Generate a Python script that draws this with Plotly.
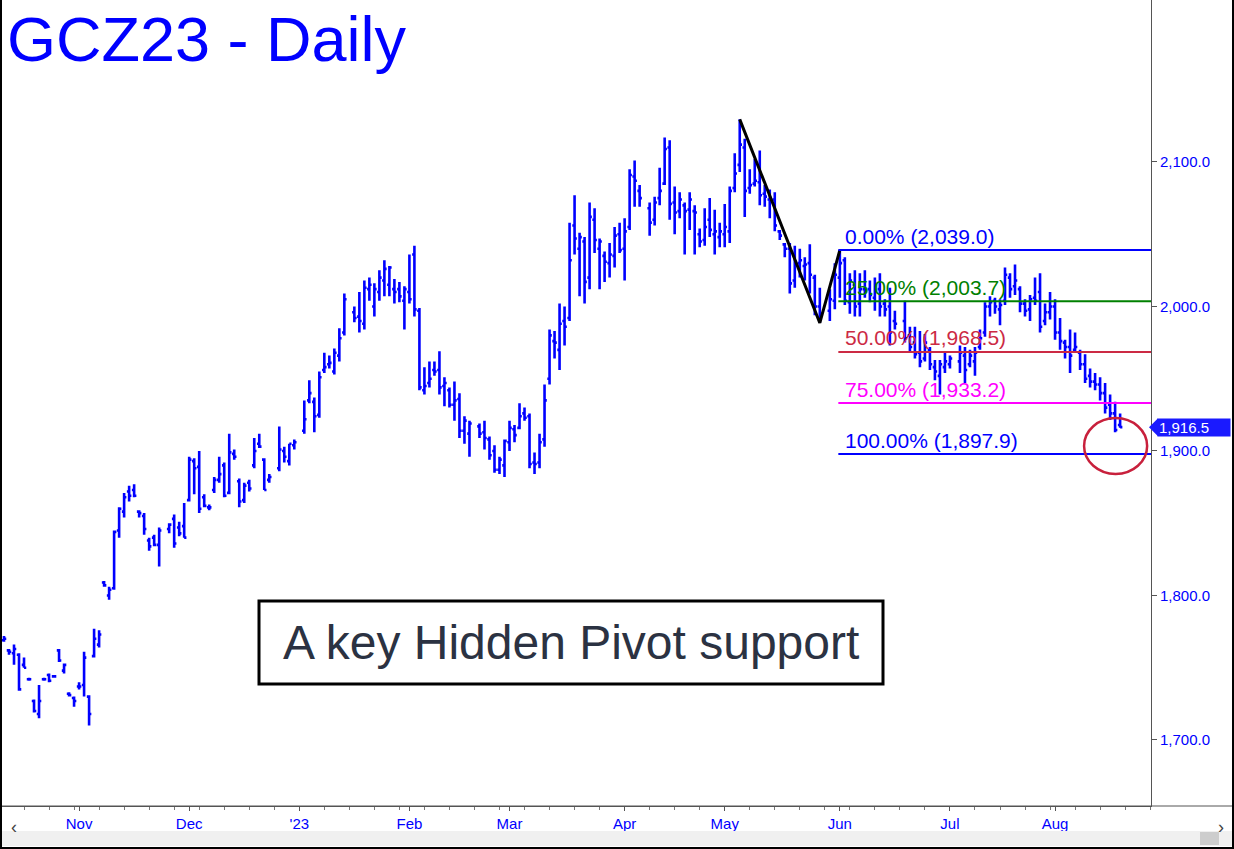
import pandas as pd
import plotly.graph_objects as go

# ---------------- data ----------------
start_date = "2022-10-11"
end_date = "2023-08-18"
holidays = ["2022-11-24", "2022-12-26", "2023-01-02", "2023-01-16", "2023-02-20",
            "2023-04-07", "2023-05-29", "2023-06-19", "2023-07-04"]

opens = [
    # Oct
    1769, 1762, 1760, 1759, 1752, 1742, 1727, 1718, 1742, 1745, 1744, 1762, 1748, 1732, 1729,
    # Nov
    1737, 1738, 1730, 1758, 1766, 1809, 1800, 1805, 1845, 1858, 1872, 1873, 1858, 1855, 1838, 1840, 1835,
    1846, 1853, 1847, 1848,
    # Dec
    1866, 1893, 1889, 1868, 1861, 1873, 1880, 1890, 1871, 1898, 1879, 1866, 1878, 1890, 1905, 1894, 1880,
    1888, 1900, 1893, 1904,
    # Jan
    1914, 1935, 1934, 1925, 1956, 1960, 1955, 1966, 1982,
    1996, 1993, 1988, 2012, 2000, 2010, 2018, 2015, 2012, 2012, 2004,
    # Feb
    2010, 2036, 1997, 1942, 1947, 1956, 1956, 1945, 1942, 1932, 1936, 1914, 1912,
    1917, 1913, 1908, 1900, 1887, 1890,
    # Mar
    1906, 1915, 1916, 1926, 1924, 1892, 1892, 1908, 1950, 1976, 1970, 1990, 1992, 2056, 2040, 2045,
    2020, 2060, 2040, 2035, 2030, 2035, 2050,
    # Apr
    2040, 2055, 2090, 2080, 2068, 2060, 2075, 2085, 2110, 2072, 2066, 2070, 2067, 2066, 2050, 2046,
    2060, 2050, 2048,
    # May
    2050, 2052, 2082, 2098, 2110, 2082, 2085, 2086, 2078, 2074, 2074, 2052, 2043, 2040, 2018, 2030,
    2028, 2030, 2020, 2000, 1997, 2004,
    # Jun
    2020, 2032, 2003, 2015, 2002, 2012, 2012, 2006, 2012, 2002, 2000, 1990,
    1990, 1980, 1975, 1968, 1964, 1970, 1958, 1952, 1958,
    # Jul
    1960, 1962, 1966, 1960, 1962, 1972, 1982, 2000, 2004, 1998, 2004, 2020, 2014, 2012, 2002, 1998,
    2006, 2010, 1990, 1996,
    # Aug
    2000, 1982, 1975, 1972, 1970, 1968, 1960, 1952, 1948, 1946, 1940, 1932, 1926, 1918,
]
highs = [
    1772, 1763, 1766, 1760, 1757, 1743, 1728, 1738, 1743, 1746, 1745, 1763, 1753, 1733, 1730,
    1740, 1761, 1731, 1777, 1776, 1810, 1806, 1845, 1861, 1871, 1876, 1877, 1859, 1857, 1840, 1842, 1847,
    1850, 1856, 1851, 1864,
    1896, 1895, 1900, 1870, 1863, 1882, 1896, 1892, 1912, 1901, 1881, 1878, 1880, 1909, 1912, 1895, 1884,
    1917, 1903, 1905, 1908,
    1935, 1949, 1937, 1955, 1968, 1966, 1971, 1985, 2009,
    2000, 2010, 2018, 2020, 2016, 2025, 2032, 2028, 2019, 2017, 2014,
    2036, 2042, 1999, 1958, 1962, 1962, 1969, 1951, 1944, 1948, 1940, 1924, 1921,
    1919, 1921, 1910, 1904, 1896, 1908,
    1921, 1918, 1933, 1930, 1926, 1899, 1912, 1946, 1984, 1983, 2002, 2000, 2058, 2077, 2051, 2048,
    2072, 2068, 2047, 2038, 2044, 2055, 2058,
    2061, 2095, 2101, 2084, 2072, 2076, 2096, 2117, 2115, 2083, 2079, 2072, 2079, 2070, 2054, 2068,
    2075, 2067, 2058,
    2071, 2083, 2106, 2129.5, 2116, 2095, 2102, 2108, 2084, 2081, 2079, 2053, 2044, 2044, 2042, 2040,
    2034, 2043, 2022, 2013, 2012, 2030,
    2039, 2034, 2023, 2025, 2023, 2025, 2018, 2020, 2023, 2005, 2013, 1997,
    2004, 1986, 1986, 1983, 1981, 1972, 1963, 1963, 1968,
    1966, 1973, 1972, 1970, 1972, 1984, 2003, 2007, 2006, 2005, 2027, 2023, 2029, 2014, 2005, 2008,
    2020, 2023, 2002, 2010,
    2005, 1992, 1977, 1984, 1982, 1970, 1967, 1957, 1954, 1951, 1947, 1939, 1934, 1926,
]
lows = [
    1768, 1759, 1752, 1734, 1750, 1741, 1719, 1715, 1741, 1740, 1743, 1754, 1746, 1730, 1723,
    1735, 1730, 1710, 1757, 1764, 1806, 1797, 1804, 1840, 1854, 1865, 1868, 1854, 1842, 1831, 1834, 1820,
    1843, 1833, 1841, 1840,
    1865, 1870, 1857, 1861, 1859, 1871, 1878, 1868, 1870, 1894, 1861, 1864, 1872, 1888, 1902, 1873, 1878,
    1886, 1892, 1890, 1901,
    1912, 1933, 1913, 1923, 1954, 1957, 1953, 1962, 1980,
    1989, 1982, 1984, 2004, 1993, 2004, 2007, 2007, 2002, 2003, 1984,
    2002, 1993, 1942, 1939, 1944, 1952, 1939, 1931, 1930, 1921, 1909, 1905, 1896,
    1909, 1901, 1894, 1885, 1884, 1882,
    1900, 1906, 1915, 1921, 1888, 1884, 1888, 1903, 1946, 1964, 1956, 1973, 1990, 2036, 2007, 2002,
    2012, 2037, 2012, 2017, 2020, 2027, 2037,
    2018, 2053, 2069, 2069, 2049, 2056, 2070, 2084, 2060, 2050, 2061, 2036, 2053, 2036, 2041, 2042,
    2048, 2036, 2041,
    2041, 2044, 2079, 2093, 2062, 2078, 2083, 2070, 2069, 2061, 2052, 2046, 2034, 2009, 2013, 2020,
    2018, 2009, 1994, 1988.6, 1990, 1998,
    2006, 2001, 1995, 1993, 1993, 2006, 2003, 1997, 1993, 1993, 1973, 1984,
    1975, 1968, 1964, 1958, 1962, 1956, 1949, 1939, 1954,
    1957, 1954, 1947, 1958, 1952, 1970, 1979, 1993, 1995, 1987, 2001, 2006, 2008, 1996, 1993, 1990,
    2001, 1982, 1987, 1991,
    1977, 1970, 1964, 1954, 1968, 1956, 1947, 1944, 1942, 1935, 1926, 1921.5, 1913, 1916,
]
closes = [
    1770, 1761, 1763, 1735, 1750, 1742, 1720, 1727, 1742, 1741, 1744, 1755, 1752, 1731, 1727,
    1737, 1757, 1718, 1770, 1773, 1807, 1804, 1844, 1860, 1868, 1869, 1869, 1857, 1846, 1834, 1835, 1845,
    1849, 1836, 1843, 1840,
    1894, 1888, 1860, 1862, 1861, 1880, 1884, 1869, 1899, 1896, 1865, 1876, 1874, 1900, 1903, 1873, 1882,
    1901, 1896, 1905, 1906,
    1922, 1940, 1924, 1951, 1958, 1961, 1968, 1978, 2005,
    1992, 1990, 2013, 2015, 2012, 2020, 2026, 2027, 2010, 2007, 2012,
    2005, 1998, 1944, 1945, 1950, 1955, 1944, 1947, 1932, 1935, 1914, 1921, 1919,
    1912, 1909, 1897, 1887, 1894, 1907,
    1916, 1911, 1924, 1923, 1891, 1891, 1906, 1935, 1980, 1975, 1988, 1986, 2032, 2047, 2048, 2017,
    2062, 2046, 2045, 2031, 2036, 2049, 2039,
    2052, 2091, 2087, 2075, 2058, 2072, 2080, 2109, 2071, 2065, 2074, 2066, 2074, 2065, 2045, 2055,
    2053, 2052, 2052,
    2055, 2080, 2092, 2112, 2080, 2084, 2087, 2077, 2076, 2075, 2056, 2049, 2040, 2016, 2031, 2032,
    2029, 2022, 2000, 1995, 2005, 2022,
    2030, 2004, 2018, 2000, 2012, 2010, 2008, 2014, 2000, 1998, 1982, 1988,
    1978, 1972, 1967, 1962, 1975, 1960, 1955, 1960, 1962,
    1964, 1968, 1956, 1966, 1968, 1978, 2000, 2003, 2000, 2001, 2022, 2012, 2018, 2002, 1997, 2005,
    2004, 1986, 1996, 2000,
    1982, 1976, 1972, 1966, 1972, 1960, 1950, 1948, 1946, 1940, 1930, 1926, 1914.5, 1916.5,
]

month_labels = ["Nov", "Dec", "'23", "Feb", "Mar", "Apr", "May", "Jun", "Jul", "Aug"]
month_starts = ["2022-11-01", "2022-12-01", "2023-01-02", "2023-02-01", "2023-03-01",
                "2023-04-03", "2023-05-01", "2023-06-01", "2023-07-03", "2023-08-01"]
price_ticks = [1700, 1800, 1900, 2000, 2100]

zig_dates = ["2023-05-04", "2023-05-26", "2023-06-01"]
zig_prices = [2129.5, 1988.6, 2039.0]

fib_labels = ["0.00%", "25.00%", "50.00%", "75.00%", "100.00%"]
fib_values = [2039.0, 2003.7, 1968.5, 1933.2, 1897.9]
fib_colors = ["#0000ff", "#008000", "#cc2a44", "#ff00ff", "#0000ff"]

last_price = 1916.5
title_text = "GCZ23 - Daily"
note_text = "A key Hidden Pivot support"

# ---------------- positions ----------------
weekdays = pd.bdate_range(start_date, end_date)
slot = {d.strftime("%Y-%m-%d"): i for i, d in enumerate(weekdays)}
trade_dates = [d for d in slot if d not in holidays]
assert len(trade_dates) == len(opens) == len(highs) == len(lows) == len(closes)
xs = [slot[d] for d in trade_dates]

W, H = 1234, 849
ML, MR, MT, MB = 2, 83, 0, 43
PW, PH = W - ML - MR, H - MT - MB
PX_PER_SLOT = 5.005
x_range = [-0.4, -0.4 + PW / PX_PER_SLOT]
y_range = [1654.3, 2212.1]

def px_x(p):  # pixel x -> paper
    return (p - ML) / PW

def px_y(p):  # pixel y -> paper
    return (MT + PH - p) / PH

BLUE = "#0000ff"
FONT = "Arial, Liberation Sans, sans-serif"

fig = go.Figure()
fig.add_trace(go.Ohlc(
    x=xs, open=opens, high=highs, low=lows, close=closes,
    increasing=dict(line=dict(color=BLUE, width=2.6)),
    decreasing=dict(line=dict(color=BLUE, width=2.6)),
    tickwidth=0.45, hoverinfo="skip", showlegend=False,
))
fig.add_trace(go.Scatter(
    x=[slot[d] for d in zig_dates], y=zig_prices, mode="lines",
    line=dict(color="black", width=3), hoverinfo="skip", showlegend=False,
))

shapes = []
annotations = []
fib_x0 = slot[zig_dates[-1]] - 0.3
for lab, val, col in zip(fib_labels, fib_values, fib_colors):
    shapes.append(dict(type="line", xref="x", yref="y", x0=fib_x0, x1=x_range[1],
                       y0=val, y1=val, line=dict(color=col, width=2)))
    annotations.append(dict(xref="x", yref="y", x=fib_x0 + 1.0, y=val, xanchor="left",
                            yanchor="middle", yshift=14, showarrow=False,
                            text=f"{lab} ({val:,.1f})",
                            font=dict(family=FONT, size=21, color=col)))

# red ellipse around the last bars
shapes.append(dict(type="circle", xref="x", yref="y", x0=215.8, x1=228.4, y0=1884.1, y1=1922.8,
                   line=dict(color="#c8203c", width=2.5)))

# note box
shapes.append(dict(type="rect", xref="paper", yref="paper", x0=px_x(259), x1=px_x(883),
                   y0=px_y(684), y1=px_y(601), line=dict(color="black", width=3),
                   fillcolor="white"))
annotations.append(dict(xref="paper", yref="paper", x=px_x(571), y=px_y(642),
                        xanchor="center", yanchor="middle", showarrow=False, text=note_text,
                        font=dict(family=FONT, size=48, color="#2b3242")))

# title
annotations.append(dict(xref="paper", yref="paper", x=px_x(5), y=px_y(39),
                        xanchor="left", yanchor="middle", showarrow=False, text=title_text,
                        font=dict(family=FONT, size=63, color=BLUE)))

# last price tag
annotations.append(dict(xref="paper", yref="y", x=1, y=last_price, xanchor="left",
                        yanchor="middle", xshift=6, showarrow=False, text=f"{last_price:,.1f}",
                        bgcolor="#1a1aff", font=dict(family=FONT, size=15, color="white"),
                        width=70, height=15, borderpad=1, align="left"))
shapes.append(dict(type="path", xref="paper", yref="y", xsizemode="pixel", ysizemode="pixel",
                   xanchor=1, yanchor=last_price, path="M -2,0 L 7,9 L 7,-9 Z",
                   fillcolor="#1a1aff", line=dict(width=0)))

# scrollbar
shapes.append(dict(type="rect", xref="paper", yref="paper", x0=0, x1=px_x(1232),
                   y0=px_y(846), y1=px_y(831), fillcolor="#f0f0f0", line=dict(width=0)))
shapes.append(dict(type="rect", xref="paper", yref="paper", x0=px_x(1200), x1=px_x(1219),
                   y0=px_y(845), y1=px_y(832), fillcolor="#cdcdcd", line=dict(width=0)))
annotations.append(dict(xref="paper", yref="paper", x=px_x(9), y=px_y(839), showarrow=False,
                        text="‹", font=dict(family=FONT, size=18, color="#444")))
annotations.append(dict(xref="paper", yref="paper", x=px_x(1226), y=px_y(839), showarrow=False,
                        text="›", font=dict(family=FONT, size=18, color="#444")))

# axis baseline across full width and frame
shapes.append(dict(type="line", xref="paper", yref="paper", x0=0, x1=px_x(1234), y0=0, y1=0,
                   line=dict(color="#555", width=1)))
shapes.append(dict(type="line", xref="paper", yref="paper", x0=px_x(1), x1=px_x(1), y0=px_y(849),
                   y1=px_y(-5), line=dict(color="black", width=2)))
shapes.append(dict(type="line", xref="paper", yref="paper", x0=px_x(1233), x1=px_x(1233),
                   y0=px_y(849), y1=px_y(-5), line=dict(color="black", width=2)))
shapes.append(dict(type="line", xref="paper", yref="paper", x0=px_x(0), x1=px_x(1234),
                   y0=px_y(848), y1=px_y(848), line=dict(color="black", width=2)))

fig.update_layout(
    width=W, height=H, margin=dict(l=ML, r=MR, t=MT, b=MB),
    paper_bgcolor="white", plot_bgcolor="white",
    shapes=shapes, annotations=annotations, showlegend=False,
    xaxis=dict(range=x_range, rangeslider=dict(visible=False), showgrid=False, zeroline=False,
               tickmode="array", tickvals=[slot[d] for d in month_starts], ticktext=month_labels,
               ticks="outside", ticklen=4, tickcolor="#555", showline=True, linecolor="#555",
               tickfont=dict(family=FONT, size=15, color=BLUE),
               minor=dict(tick0=4, dtick=5, ticks="outside", ticklen=3, tickcolor="#777")),
    yaxis=dict(range=y_range, side="right", showgrid=False, zeroline=False,
               tickmode="array", tickvals=price_ticks, tickformat=",.1f",
               ticks="outside", ticklen=5, tickcolor="#555", showline=True, linecolor="#555",
               tickfont=dict(family=FONT, size=15, color=BLUE)),
)

fig.write_html("out.html", config={"displayModeBar": False},
               post_script="document.body.style.margin='0';document.body.style.overflow='hidden';")
